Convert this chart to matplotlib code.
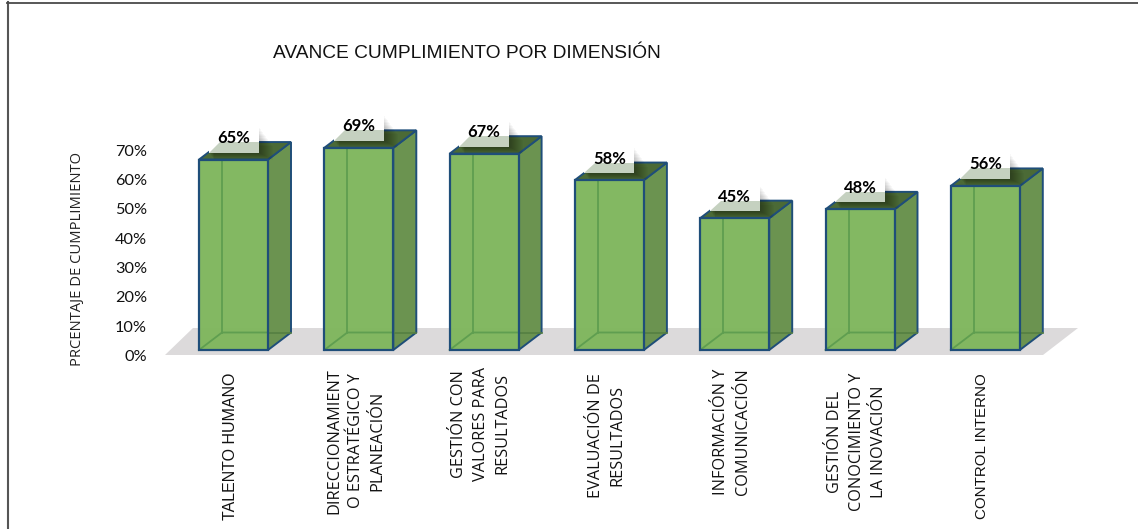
import matplotlib
matplotlib.use("Agg")
import matplotlib.pyplot as plt
from matplotlib.patches import Polygon, Rectangle
from matplotlib.lines import Line2D
from matplotlib.transforms import ScaledTranslation

categories = ["TALENTO HUMANO", "DIRECCIONAMIENT\nO ESTRATÉGICO Y\nPLANEACIÓN",
              "GESTIÓN CON\nVALORES PARA\nRESULTADOS", "EVALUACIÓN DE\nRESULTADOS",
              "INFORMACIÓN Y\nCOMUNICACIÓN", "GESTIÓN DEL\nCONOCIMIENTO Y\nLA INOVACIÓN",
              "CONTROL INTERNO"]
values = [65, 69, 67, 58, 45, 48, 56]
yticks = [0, 10, 20, 30, 40, 50, 60, 70]
ytick_labels = ["0%", "10%", "20%", "30%", "40%", "50%", "60%", "70%"]

W, H = 1138, 529
PX_CAT = 125.3   # pixels per category
PX_VAL = 2.93    # pixels per percent
X0_PX, Y0_PX = 233.5, 350
L, R, B, T = 165, 1078, 356, 100

fig = plt.figure(figsize=(W / 100, H / 100), dpi=100, facecolor="white")
ax = fig.add_axes([L / W, 1 - B / H, (R - L) / W, (B - T) / H])
ax.set_xlim((L - X0_PX) / PX_CAT, (R - X0_PX) / PX_CAT)
ax.set_ylim((Y0_PX - B) / PX_VAL, (Y0_PX - T) / PX_VAL)
for s in ax.spines.values():
    s.set_visible(False)
ax.patch.set_visible(False)

dx = lambda p: p / PX_CAT
dy = lambda p: p / PX_VAL
DEPTH_X, DEPTH_Y = dx(23), dy(17.5)
HALF = dx(34.5)
EDGE = "#1f4e79"
FRONT = "#7fb65d"
SIDE = "#6b9350"
TOP = "#4b6a36"
INNER = "#5f9e50"

# floor
ax.add_patch(Polygon([(dx(-68.5), dy(-5)), (dx(809.5), dy(-5)), (dx(844.5), dy(22)), (dx(-40.5), dy(22))],
                     closed=True, fc="#dcdadb", ec="none", zorder=1))

bars = ax.bar(range(len(values)), values, width=2 * HALF, color=FRONT, alpha=0.97, edgecolor="none", zorder=4)

for i, v in enumerate(values):
    l, r = i - HALF, i + HALF
    ax.add_patch(Polygon([(r, 0), (r + DEPTH_X, DEPTH_Y), (r + DEPTH_X, v + DEPTH_Y), (r, v)],
                         closed=True, fc=SIDE, ec=EDGE, lw=1.4, zorder=3))
    ax.add_patch(Polygon([(l, v), (r, v), (r + DEPTH_X, v + DEPTH_Y), (l + DEPTH_X, v + DEPTH_Y)],
                         closed=True, fc=TOP, ec=EDGE, lw=1.4, zorder=3))
    # inner lines seen through the front face
    ax.plot([l + DEPTH_X, l + DEPTH_X], [DEPTH_Y, v], color=INNER, lw=1.3, zorder=5)
    ax.plot([l, l + DEPTH_X, r], [0, DEPTH_Y, DEPTH_Y], color=INNER, lw=1.3, zorder=5)
    ax.plot([r, r + DEPTH_X], [DEPTH_Y, DEPTH_Y], color="#557f42", lw=1.2, zorder=3.5)
    # front outline
    ax.add_patch(Rectangle((l, 0), 2 * HALF, v, fc="none", ec=EDGE, lw=1.6, zorder=6))
    # data label box with soft shadow
    bl, br = i - dx(25), i + dx(25)
    bb, bt = v + dy(7), v + dy(33)
    for g in range(1, 15):
        ax.add_patch(Rectangle((bl + dx(g * 0.4), bb - dy(g * 0.5)), br - bl + dx(g * 0.6),
                               bt - bb - dy(g * 0.9), fc="black", ec="none", alpha=0.028, zorder=3.7))
    ax.add_patch(Polygon([(bl, bb), (br, bb), (br, bt), (bl, bt)], closed=True, fc="white", ec="none", zorder=3.8))
    ax.add_patch(Polygon([(bl, bb), (br, bb), (br, v + DEPTH_Y), (bl + dx(11), v + DEPTH_Y)],
                         closed=True, fc="#c5d1c0", ec="none", zorder=3.9))
    ax.text(i, v + dy(21.5), f"{v}%", ha="center", va="center", fontsize=12, fontweight="bold",
            family="Lato", color="black", zorder=8, clip_on=False)

# axes ticks
ax.set_yticks(yticks)
ax.set_yticklabels(ytick_labels, family="Lato", fontsize=11.7, color="#111111")
ax.tick_params(axis="y", length=0, pad=13)
off = ScaledTranslation(0, -5.4 / 100, fig.dpi_scale_trans)
for lab in ax.get_yticklabels():
    lab.set_transform(lab.get_transform() + off)

ax.set_xticks(range(len(categories)))
ax.set_xticklabels([])
ax.tick_params(axis="x", length=0)

# category labels
label_fonts = ["Liberation Sans", "Open Sans", "Open Sans", "Open Sans", "Open Sans", "Open Sans", "Liberation Sans"]
label_sizes = [11.5, 11.7, 11.7, 11.7, 11.7, 11.7, 10.9]
label_tops = [373, 368, 367, 373, 368, 373, 373]
for i, (c, f, s, t) in enumerate(zip(categories, label_fonts, label_sizes, label_tops)):
    fig.text((X0_PX + PX_CAT * i - 3) / W, 1 - t / H, c, rotation=90, ha="center", va="top",
             ma="center", family=f, fontsize=s, color="#111111", linespacing=1.48)

fig.text(77 / W, 1 - 259 / H, "PRCENTAJE DE CUMPLIMIENTO", rotation=90, ha="center", va="center",
         family="Open Sans", fontsize=10.6, color="#222222")
fig.text(273 / W, 1 - 53.5 / H, "AVANCE CUMPLIMIENTO POR DIMENSIÓN", ha="left", va="center",
         family="Liberation Sans", fontsize=13.8, color="#111111")

# outer frame
fig.add_artist(Line2D([7.5 / W, 7.5 / W], [0, 1 - 2 / H], color="#555555", lw=1.5))
fig.add_artist(Line2D([6.5 / W, 1], [1 - 2.5 / H, 1 - 2.5 / H], color="#4a4a4a", lw=1.3))

fig.savefig("out.png", dpi=100)
